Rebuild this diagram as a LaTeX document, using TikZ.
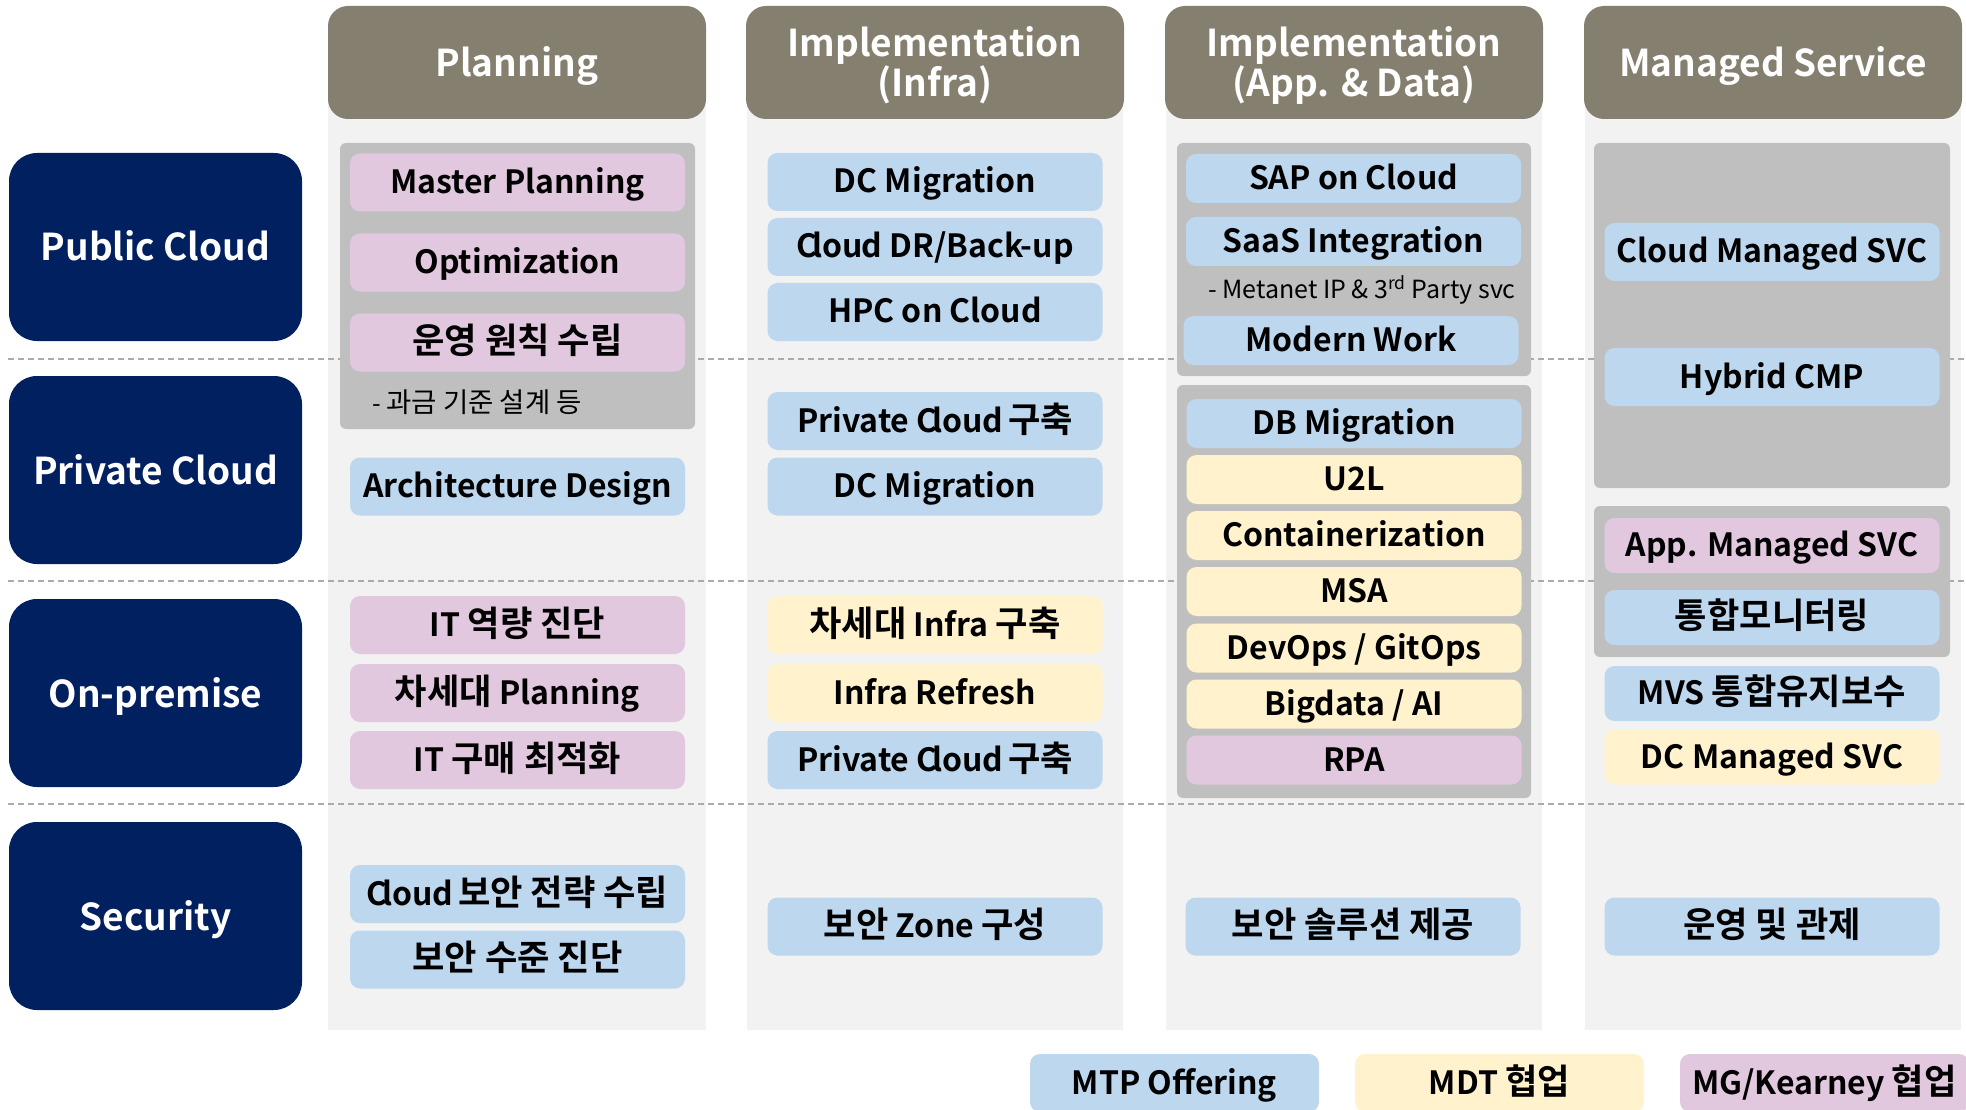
\documentclass[tikz,border=0pt]{standalone}
\usepackage{fontspec}
\setmainfont{Noto Sans CJK KR}[BoldFont={Noto Sans CJK KR Bold}]
\newfontfamily\krfont{Noto Sans CJK KR}[Scale=1.1, BoldFont={Noto Sans CJK KR Bold}]
\newcommand\kr[1]{{\krfont #1}}
\newcommand\tightcloud{C\kern-5pt lou\kern-1pt d}

\definecolor{navy}{HTML}{002060}
\definecolor{headgray}{HTML}{857F6F}
\definecolor{colgray}{HTML}{F2F2F2}
\definecolor{groupgray}{HTML}{BFBFBF}
\definecolor{sepgray}{HTML}{ABABAB}
\definecolor{mtpblue}{HTML}{BDD7EE}
\definecolor{mdtyellow}{HTML}{FFF2CC}
\definecolor{mgpink}{HTML}{E2C8DF}

\tikzset{
  rowlabel/.style={rectangle, rounded corners=28pt, fill=navy, text=white,
    minimum width=293pt, minimum height=188pt, inner sep=0pt,
    text height=28pt, text depth=0pt,
    font=\bfseries\fontsize{37}{40}\selectfont},
  colhead/.style={rectangle, rounded corners=20pt, fill=headgray, text=white,
    minimum width=378pt, minimum height=113pt, inner sep=0pt, align=center,
    text depth=3pt, font=\bfseries\fontsize{37}{40}\selectfont},
  item/.style={rectangle, rounded corners=10pt, minimum width=335pt,
    minimum height=58pt, inner sep=0pt, text height=26pt, text depth=4pt,
    font=\bfseries\fontsize{32}{34}\selectfont},
  mtp/.style={item, fill=mtpblue},
  mdt/.style={item, fill=mdtyellow},
  mgk/.style={item, fill=mgpink},
  note/.style={anchor=west, inner sep=0pt, font=\fontsize{25}{27}\selectfont},
  groupbox/.style={fill=groupgray, rounded corners=6pt},
  sepline/.style={sepgray, line width=1.3pt, dash pattern=on 6pt off 4pt}
}

\begin{document}
\begin{tikzpicture}[x=1pt, y=-1pt]
  \useasboundingbox (0,0) rectangle (1966,1110);

  % column backgrounds
  \fill[colgray] (328,80) rectangle (706,1030);
  \fill[colgray] (747,80) rectangle (1123,1030);
  \fill[colgray] (1166,80) rectangle (1542,1030);
  \fill[colgray] (1585,80) rectangle (1961,1030);

  % row separators
  \draw[sepline] (8,359) -- (1966,359);
  \draw[sepline] (8,581) -- (1966,581);
  \draw[sepline] (8,804) -- (1966,804);

  % grey groups
  \fill[groupbox] (340,143) rectangle (695,429);
  \fill[groupbox] (1177,143) rectangle (1531,376);
  \fill[groupbox] (1177,385) rectangle (1531,798);
  \fill[groupbox] (1594,143) rectangle (1950,488);
  \fill[groupbox] (1594,506) rectangle (1950,657);

  % headers
  \node[colhead] (hplan) at (517,62.5) {Planning};
  \node[colhead] (hinfra) at (935,62.5) {Implementation\\(Infra)};
  \node[colhead] (happ) at (1354,62.5) {Implementation\\(App. \& Data)};
  \node[colhead] (hmsvc) at (1773,62.5) {Managed Service};

  % rows
  \node[rowlabel] (rpublic) at (155.5,247) {Public Cloud};
  \node[rowlabel] (rprivate) at (155.5,470) {Private Cloud};
  \node[rowlabel] (ronprem) at (155.5,693) {On-premise};
  \node[rowlabel] (rsec) at (155.5,916) {Security};

  % Planning
  \node[mgk] (p1) at (517.5,182.5) {Master Planning};
  \node[mgk] (p2) at (517.5,262.5) {Optimization};
  \node[mgk] (p3) at (517.5,342.5) {\kr{운영 원칙 수립}};
  \node[note] (p3n) at (372,402) {- \kr{과금 기준 설계 등}};
  \node[mtp] (p4) at (517.5,486.5) {Architecture Design};
  \node[mgk] (p5) at (517.5,625) {IT \kr{역량 진단}};
  \node[mgk] (p6) at (517.5,693) {\kr{차세대} Planning};
  \node[mgk] (p7) at (517.5,760) {IT \kr{구매 최적화}};
  \node[mtp] (p8) at (517.5,894) {\tightcloud\kern-2pt\ \kr{보안 전략 수립}};
  \node[mtp] (p9) at (517.5,959.5) {\kr{보안 수준 진단}};

  % Implementation (Infra)
  \node[mtp] (i1) at (935,182) {DC Migration};
  \node[mtp] (i2) at (935,247) {\tightcloud\ DR/Back-up};
  \node[mtp] (i3) at (935,312) {HPC on Cloud};
  \node[mtp] (i4) at (935,421) {Private \tightcloud\kern-2pt\ \kr{구축}};
  \node[mtp] (i5) at (935,486.5) {DC Migration};
  \node[mdt] (i6) at (935,625) {\kr{차세대} Infra \kr{구축}};
  \node[mdt] (i7) at (935,693) {Infra Refresh};
  \node[mtp] (i8) at (935,760) {Private \tightcloud\kern-2pt\ \kr{구축}};
  \node[mtp] (i9) at (935,926.5) {\kr{보안} Zone \kr{구성}};

  % Implementation (App. & Data)
  \node[mtp, minimum height=49pt] (a1) at (1353.5,178.5) {SAP on Cloud};
  \node[mtp, minimum height=49pt] (a2) at (1353.5,241.5) {SaaS Integration};
  \node[note] (a2n) at (1208,290) {- Metanet IP \& 3\textsuperscript{rd} Party svc};
  \node[mtp, minimum height=49pt] (a3) at (1351,340.5) {Modern Work};
  \node[mtp, minimum height=49pt] (a4) at (1354,423.5) {DB Migration};
  \node[mdt, minimum height=49pt] (a5) at (1354,479.5) {U2L};
  \node[mdt, minimum height=49pt] (a6) at (1354,535.5) {Containerization};
  \node[mdt, minimum height=49pt] (a7) at (1354,591.5) {MSA};
  \node[mdt, minimum height=49pt] (a8) at (1354,648) {DevOps / GitOps};
  \node[mdt, minimum height=49pt] (a9) at (1354,704) {Bigdata / AI};
  \node[mgk, minimum height=49pt] (a10) at (1354,760) {RPA};
  \node[mtp] (a11) at (1353,926.5) {\kr{보안 솔루션 제공}};

  % Managed Service
  \node[mtp] (m1) at (1772,252) {Cloud Managed SVC};
  \node[mtp] (m2) at (1772,377) {Hybrid CMP};
  \node[mgk, minimum height=55pt] (m3) at (1772,545.5) {App. Managed SVC};
  \node[mtp, minimum height=55pt] (m4) at (1772,617.5) {\kr{통합모니터링}};
  \node[mtp, minimum height=55pt] (m5) at (1772,693.5) {MVS \kr{통합유지보수}};
  \node[mdt, minimum height=55pt] (m6) at (1772,757) {DC Managed SVC};
  \node[mtp] (m7) at (1772,926.5) {\kr{운영 및 관제}};

  % legend
  \node[mtp, minimum width=289pt] (lmtp) at (1174.5,1083) {MTP Offering};
  \node[mdt, minimum width=289pt] (lmdt) at (1499.5,1083) {MDT \kr{협업}};
  \node[mgk, minimum width=289pt] (lmgk) at (1824.5,1083) {MG/Kearney \kr{협업}};

\end{tikzpicture}
\end{document}
